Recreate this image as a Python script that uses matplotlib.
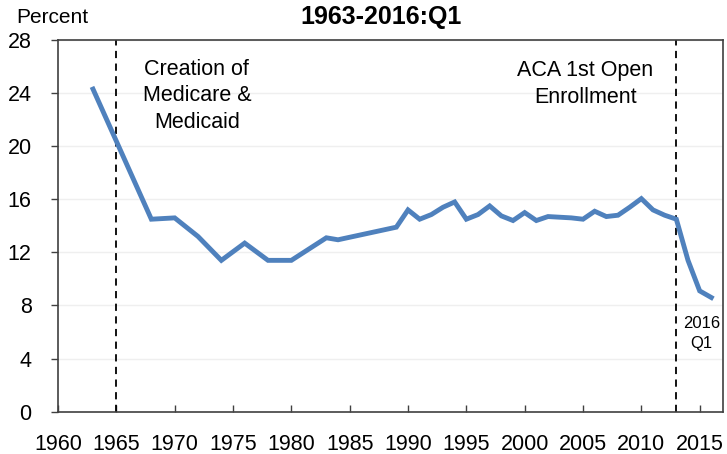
import matplotlib.pyplot as plt

plt.rcParams['font.family'] = ['Liberation Sans', 'DejaVu Sans']

# uninsured rate, percent
years = [1963, 1968, 1970, 1972, 1974, 1976, 1978, 1980, 1983, 1984, 1989,
         1990, 1991, 1992, 1993, 1994, 1995, 1996, 1997, 1998, 1999, 2000,
         2001, 2002, 2003, 2004, 2005, 2006, 2007, 2008, 2009, 2010, 2011,
         2012, 2013, 2014, 2015, 2016]
rate = [24.3, 14.5, 14.6, 13.2, 11.4, 12.7, 11.4, 11.4, 13.1, 12.95, 13.9,
        15.2, 14.5, 14.85, 15.4, 15.8, 14.5, 14.85, 15.5, 14.75, 14.4, 15.0,
        14.4, 14.7, 14.65, 14.6, 14.5, 15.1, 14.7, 14.8, 15.4, 16.05, 15.2,
        14.8, 14.5, 11.4, 9.1, 8.6]
event_years = [1965, 2013]
x_ticks = list(range(1960, 2016, 5))
y_ticks = list(range(0, 29, 4))

fig = plt.figure(figsize=(7.27, 4.54), dpi=100)
ax = fig.add_axes([0.0798, 0.0932, 0.9147, 0.8187])

ax.plot(years, rate, color='#4F81BD', lw=3.5, zorder=3, solid_joinstyle='miter')
for yr in event_years:
    ax.axvline(yr, color='black', lw=1.3, ls=(0, (4, 3)), zorder=2)

ax.set_xlim(1960, 2017)
ax.set_ylim(0, 28)
ax.set_xticks(x_ticks)
ax.set_yticks(y_ticks)
ax.yaxis.grid(True, color='#EFEFEF', lw=1.0)
ax.set_axisbelow(True)
ax.tick_params(axis='x', direction='in', length=5, width=1, pad=16, labelsize=15.5, color='#404040')
ax.tick_params(axis='y', direction='out', length=5, width=1, pad=14, labelsize=15.5, color='#404040')
for s in ax.spines.values():
    s.set_color('#404040')
    s.set_linewidth(1.2)

ax.text(1971.9, 23.8, 'Creation of\nMedicare &\nMedicaid', ha='center', va='center',
        fontsize=15.5, linespacing=1.35)
ax.text(2005.2, 24.7, 'ACA 1st Open\nEnrollment', ha='center', va='center',
        fontsize=15.5, linespacing=1.35)
ax.text(2015.15, 5.9, '2016\nQ1', ha='center', va='center', fontsize=12, linespacing=1.4)

fig.text(0.023, 0.962, 'Percent', ha='left', va='center', fontsize=15)
fig.text(0.524, 0.962, '1963-2016:Q1', ha='center', va='center', fontsize=18, fontweight='bold')

fig.savefig('out.png', dpi=100)
